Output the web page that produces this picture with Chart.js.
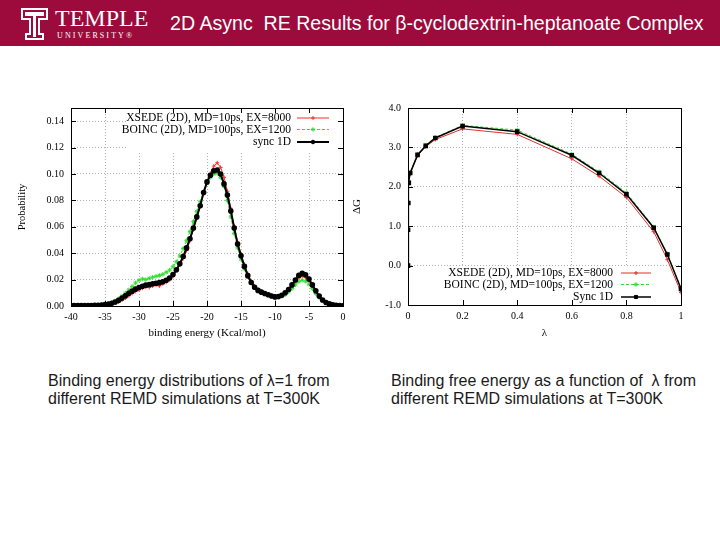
<!DOCTYPE html>
<html><head><meta charset="utf-8">
<script src="https://cdn.jsdelivr.net/npm/chart.js@4/dist/chart.umd.min.js"></script>
<style>
body{margin:0;width:720px;height:540px;background:#fff;position:relative;overflow:hidden;font-family:"Liberation Sans",Arial,sans-serif}
#hdr{position:absolute;left:0;top:0;width:720px;height:46px;background:#9c0b3b}
#temple{position:absolute;left:55px;top:4px;color:#fff;font-family:"Liberation Serif",serif;font-size:24px;line-height:28px;letter-spacing:0px}
#univ{position:absolute;left:57px;top:31px;color:#fff;font-family:"Liberation Serif",serif;font-size:8px;letter-spacing:2.1px}
#title{position:absolute;left:170px;top:11px;color:#fff;font-size:18px;white-space:pre;line-height:24px}
.cap{position:absolute;top:372px;font-size:16px;line-height:18px;color:#1a1a1a}
canvas{position:absolute}
</style></head><body>
<div id="hdr">
<svg style="position:absolute;left:20px;top:7px" width="30" height="34" viewBox="0 0 30 34">
<path d="M2,2 H27 V12 H19 V27 H23 V32 H6 V27 H10 V12 H2 Z" fill="none" stroke="#fff" stroke-width="2"/>
<path d="M5,5 H24 V9 H16 V30 H13 V9 H5 Z" fill="#fff"/>
</svg>
<div id="temple">TEMPLE</div>
<div id="univ">UNIVERSITY®</div>
<div id="title">2D Async  RE Results for β-cyclodextrin-heptanoate Complex</div>
</div>
<canvas id="c1" width="345" height="250" style="left:10px;top:95px"></canvas>
<canvas id="c2" width="345" height="250" style="left:347px;top:95px"></canvas>
<div class="cap" style="left:48px">Binding energy distributions of λ=1 from<br>different REMD simulations at T=300K</div>
<div class="cap" style="left:391px">Binding free energy as a function of &nbsp;λ from<br>different REMD simulations at T=300K</div>
<script>
// ---------- Left chart data ----------
const energies = [-40,-39.5,-39,-38.5,-38,-37.5,-37,-36.5,-36,-35.5,-35,-34.5,-34,-33.5,-33,-32.5,-32,-31.5,-31,-30.5,-30,-29.5,-29,-28.5,-28,-27.5,-27,-26.5,-26,-25.5,-25,-24.5,-24,-23.5,-23,-22.5,-22,-21.5,-21,-20.5,-20,-19.5,-19,-18.5,-18,-17.5,-17,-16.5,-16,-15.5,-15,-14.5,-14,-13.5,-13,-12.5,-12,-11.5,-11,-10.5,-10,-9.5,-9,-8.5,-8,-7.5,-7,-6.5,-6,-5.5,-5,-4.5,-4,-3.5,-3,-2.5,-2,-1.5,-1,-0.5,0];
const xsedeProb = [0.0003,0.0003,0.0003,0.0003,0.0003,0.0003,0.0004,0.0004,0.0005,0.0006,
0.0008,0.0010,0.0015,0.0022,0.0030,0.0045,0.0060,0.0078,0.0095,0.0110,
0.0122,0.0135,0.0143,0.0140,0.0152,0.0160,0.0152,0.0168,0.0180,0.0198,
0.0225,0.0268,0.0310,0.0360,0.0420,0.0495,0.0580,0.0665,0.0760,0.0855,
0.0940,0.1005,0.1060,0.1085,0.1050,0.0975,0.0870,0.0740,0.0605,0.0485,
0.0395,0.0315,0.0245,0.0190,0.0152,0.0125,0.0110,0.0098,0.0088,0.0080,
0.0073,0.0075,0.0082,0.0098,0.0122,0.0152,0.0185,0.0215,0.0225,0.0215,
0.0190,0.0150,0.0108,0.0072,0.0045,0.0027,0.0016,0.0010,0.0006,0.0003,
0.0002];
const boincProb = [0.0003,0.0003,0.0003,0.0003,0.0004,0.0004,0.0005,0.0006,0.0007,0.0009,
0.0012,0.0018,0.0026,0.0038,0.0054,0.0075,0.0098,0.0122,0.0148,0.0175,
0.0195,0.0205,0.0200,0.0210,0.0218,0.0225,0.0232,0.0240,0.0255,0.0272,
0.0298,0.0335,0.0380,0.0435,0.0495,0.0565,0.0640,0.0715,0.0790,0.0865,
0.0930,0.0975,0.1000,0.1005,0.0975,0.0905,0.0800,0.0675,0.0550,0.0440,
0.0355,0.0280,0.0220,0.0175,0.0142,0.0118,0.0104,0.0093,0.0083,0.0074,
0.0066,0.0066,0.0072,0.0086,0.0107,0.0133,0.0160,0.0185,0.0195,0.0188,
0.0165,0.0130,0.0095,0.0064,0.0040,0.0024,0.0014,0.0008,0.0005,0.0003,
0.0002];
const sync1DProb = [0.0003,0.0003,0.0003,0.0003,0.0003,0.0004,0.0004,0.0005,0.0006,0.0008,
0.0011,0.0015,0.0021,0.0030,0.0043,0.0060,0.0078,0.0096,0.0113,0.0128,
0.0140,0.0150,0.0158,0.0163,0.0168,0.0172,0.0177,0.0184,0.0195,0.0212,
0.0238,0.0275,0.0320,0.0375,0.0440,0.0510,0.0590,0.0675,0.0760,0.0860,
0.0940,0.0990,0.1025,0.1030,0.1000,0.0925,0.0840,0.0720,0.0590,0.0470,
0.0380,0.0300,0.0230,0.0178,0.0142,0.0118,0.0105,0.0095,0.0085,0.0076,
0.0069,0.0072,0.0082,0.0100,0.0125,0.0160,0.0197,0.0232,0.0247,0.0236,
0.0205,0.0160,0.0115,0.0075,0.0045,0.0027,0.0016,0.0010,0.0006,0.0003,
0.0002];
const leftLabels = ['XSEDE (2D), MD=10ps, EX=8000','BOINC (2D), MD=100ps, EX=1200','sync 1D'];

// ---------- Right chart data ----------
const lambdas = [0,0.0001,0.001,0.003,0.008,0.035,0.065,0.1,0.2,0.4,0.6,0.7,0.8,0.9,0.95,1];
const xsedeDG = [0.0,0.91,1.59,2.10,2.34,2.79,3.02,3.20,3.47,3.33,2.71,2.27,1.73,0.86,0.15,-0.68];
const boincDG = [0.0,0.91,1.60,2.12,2.37,2.82,3.06,3.25,3.56,3.44,2.83,2.38,1.85,0.98,0.30,-0.57];
const sync1DDG = [0.0,0.91,1.59,2.10,2.35,2.81,3.04,3.24,3.54,3.40,2.80,2.35,1.81,0.96,0.28,-0.59];
const rightLabels = ['XSEDE (2D), MD=10ps, EX=8000','BOINC (2D), MD=100ps, EX=1200','Sync 1D'];

// fit header title width
(function(){const t=document.getElementById('title');let fs=18;t.style.fontSize=fs+'px';
 const w=t.getBoundingClientRect().width; fs=fs*534/w; t.style.fontSize=fs+'px';})();

Chart.defaults.font.family = '"Liberation Serif", "Times New Roman", serif';
Chart.defaults.font.size = 10;
Chart.defaults.color = '#000';

const RED='#ff2a2a', GREEN='#33dd33', BLACK='#000';

function pts(xs, ys){ return xs.map((x,i)=>({x:x,y:ys[i]})); }

function framePlugin(legendCfg){
  return {
    id:'frame',
    afterDraw(chart){
      const ctx=chart.ctx, a=chart.chartArea;
      const xs=chart.scales.x, ys=chart.scales.y;
      ctx.save();
      // legend (opaque)
      const L=legendCfg(a);
      ctx.fillStyle='#fff';
      ctx.fillRect(L.bg[0],L.bg[1],L.bg[2],L.bg[3]);
      ctx.font='11.5px "Liberation Serif", serif';
      ctx.textAlign='right'; ctx.textBaseline='middle';
      chart.data.datasets.forEach((ds,i)=>{
        const k = L.map[i]; const y=L.ys[k];
        ctx.fillStyle='#000';
        ctx.fillText(ds.label, L.tx, y);
        ctx.strokeStyle=ds.borderColor; ctx.lineWidth=ds.borderWidth;
        ctx.setLineDash(ds.borderDash||[]);
        ctx.beginPath(); ctx.moveTo(L.x1,y); ctx.lineTo(L.x2,y); ctx.stroke();
        ctx.setLineDash([]);
        ctx.fillStyle=ds.pointBackgroundColor||ds.borderColor;
        ctx.lineWidth=1;
        Chart.helpers.drawPoint(ctx,{pointStyle:ds.pointStyle,radius:ds.pointRadius,rotation:0,borderWidth:1},(L.x1+L.x2)/2,y);
      });
      // frame
      ctx.strokeStyle='#000'; ctx.lineWidth=1;
      ctx.strokeRect(Math.round(a.left)+0.5,Math.round(a.top)+0.5,Math.round(a.right-a.left),Math.round(a.bottom-a.top));
      ctx.beginPath();
      xs.ticks.forEach(t=>{const p=Math.round(xs.getPixelForValue(t.value))+0.5;
        ctx.moveTo(p,a.bottom);ctx.lineTo(p,a.bottom-5);ctx.moveTo(p,a.top);ctx.lineTo(p,a.top+5);});
      ys.ticks.forEach(t=>{const p=Math.round(ys.getPixelForValue(t.value))+0.5;
        ctx.moveTo(a.left,p);ctx.lineTo(a.left+5,p);ctx.moveTo(a.right,p);ctx.lineTo(a.right-5,p);});
      ctx.stroke();
      ctx.restore();
    }
  };
}

const gridOpts = {color:'#b0b0b0', lineWidth:1, drawTicks:false};
const borderOpts = {display:false, dash:[1,2]};

new Chart(document.getElementById('c1'),{
  type:'line',
  data:{datasets:[
    {label:leftLabels[2], data:pts(energies,sync1DProb), borderColor:BLACK, borderWidth:2, pointStyle:'circle', pointRadius:1.8, pointBackgroundColor:BLACK, pointBorderColor:BLACK, order:0},
    {label:leftLabels[1], data:pts(energies,boincProb), borderColor:GREEN, borderWidth:1, borderDash:[3,2], pointStyle:'star', pointRadius:2.2, pointBorderColor:GREEN, pointBorderWidth:1, order:1},
    {label:leftLabels[0], data:pts(energies,xsedeProb), borderColor:RED, borderWidth:1, pointStyle:'cross', pointRadius:2, pointBorderColor:RED, pointBorderWidth:1, order:2}
  ]},
  options:{
    responsive:false, animation:false, events:[],
    layout:{padding:{left:0,top:8,right:12,bottom:0}},
    plugins:{legend:{display:false}, tooltip:{enabled:false}},
    elements:{line:{tension:0}},
    scales:{
      x:{type:'linear',min:-40,max:0,
        ticks:{stepSize:5,padding:5,maxRotation:0,callback:v=>String(v)},
        grid:gridOpts,border:borderOpts,
        title:{display:true,text:'binding energy (Kcal/mol)',font:{size:11},padding:{top:0,bottom:5}},
        afterFit:s=>{s.height=39;}},
      y:{min:0,max:0.15,
        ticks:{stepSize:0.02,padding:7,callback:v=>v.toFixed(2)},
        afterBuildTicks:s=>{s.ticks=s.ticks.filter(t=>Math.abs(t.value*50-Math.round(t.value*50))<1e-6);},
        grid:gridOpts,border:borderOpts,
        title:{display:true,text:'Probability',font:{size:10.5},padding:{top:6,bottom:0}},
        afterFit:s=>{s.width=61;}}
    }
  },
  plugins:[framePlugin(a=>({tx:a.right-52,x1:a.right-46,x2:a.right-14,ys:[a.top+10,a.top+21.5,a.top+34],map:[2,1,0],bg:[a.right-215,a.top+3,214,40]}))]
});

new Chart(document.getElementById('c2'),{
  type:'line',
  data:{datasets:[
    {label:rightLabels[2], data:pts(lambdas,sync1DDG), borderColor:BLACK, borderWidth:1.5, pointStyle:'rect', pointRadius:2.2, pointBackgroundColor:BLACK, pointBorderColor:BLACK, order:0},
    {label:rightLabels[1], data:pts(lambdas,boincDG), borderColor:GREEN, borderWidth:1, borderDash:[3,2], pointStyle:'star', pointRadius:2.2, pointBorderColor:GREEN, order:1},
    {label:rightLabels[0], data:pts(lambdas,xsedeDG), borderColor:'#e03030', borderWidth:1, pointStyle:'cross', pointRadius:2, pointBorderColor:'#e03030', order:2}
  ]},
  options:{
    responsive:false, animation:false, events:[],
    layout:{padding:{left:0,top:9,right:11,bottom:0}},
    plugins:{legend:{display:false}, tooltip:{enabled:false}},
    elements:{line:{tension:0}},
    scales:{
      x:{type:'linear',min:0,max:1,
        ticks:{stepSize:0.2,padding:5,maxRotation:0,callback:v=>String(+v.toFixed(1))},
        grid:gridOpts,border:borderOpts,
        title:{display:true,text:'λ',font:{size:11},padding:{top:0,bottom:5}},
        afterFit:s=>{s.height=40;}},
      y:{min:-1,max:4,
        ticks:{stepSize:1,padding:7,callback:v=>v.toFixed(1)},
        grid:gridOpts,border:borderOpts,
        title:{display:true,text:'ΔG',font:{size:11},padding:{top:4,bottom:0}},
        afterFit:s=>{s.width=61;}}
    }
  },
  plugins:[framePlugin(a=>({tx:a.right-68,x1:a.right-60,x2:a.right-30,ys:[a.bottom-32,a.bottom-20.5,a.bottom-8],map:[2,1,0],bg:[a.right-236,a.bottom-39,206,38]}))]
});
</script>
</body></html>
